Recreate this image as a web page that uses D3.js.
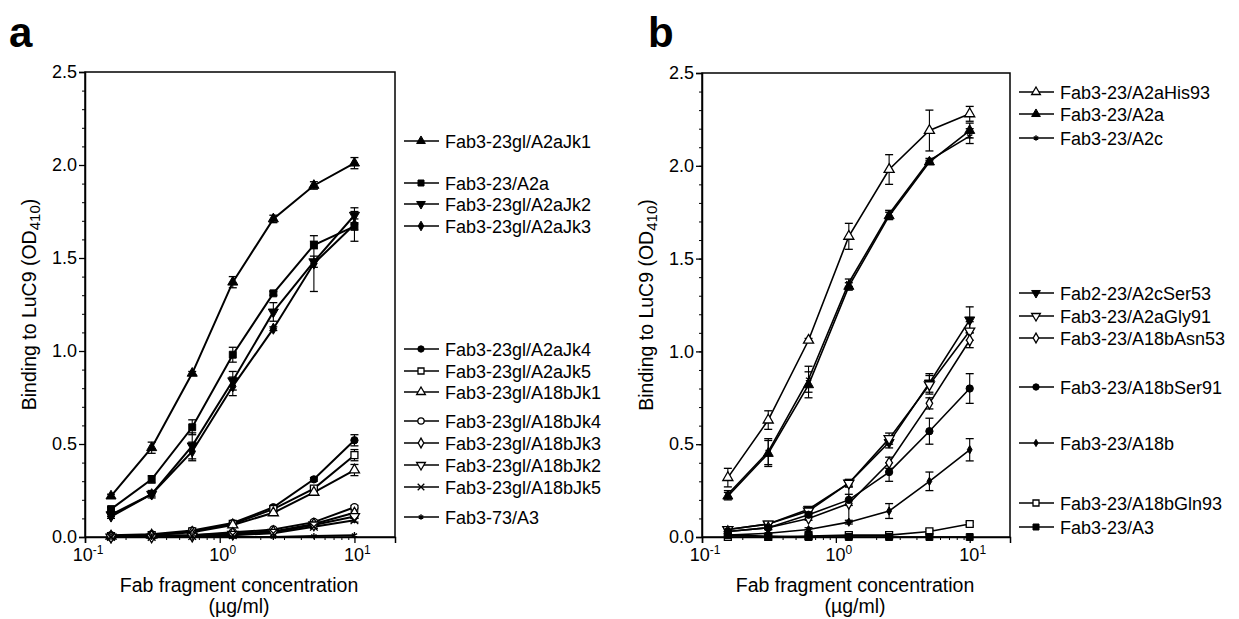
<!DOCTYPE html>
<html>
<head>
<meta charset="utf-8">
<script src="https://cdn.jsdelivr.net/npm/d3@7.9.0/dist/d3.min.js"></script>
<style>
  body { margin: 0; background: #fff; }
  svg { font-family: 'Liberation Sans', Arial, sans-serif; }
</style>
</head>
<body>
<svg id="chart" width="1239" height="619"></svg>
<script>
// concentrations (µg/ml)
const conc = [0.156, 0.3125, 0.625, 1.25, 2.5, 5, 10];

// panel a
const namesA = ['Fab3-23gl/A2aJk1', 'Fab3-23/A2a', 'Fab3-23gl/A2aJk2', 'Fab3-23gl/A2aJk3',
  'Fab3-23gl/A2aJk4', 'Fab3-23gl/A2aJk5', 'Fab3-23gl/A18bJk1',
  'Fab3-23gl/A18bJk4', 'Fab3-23gl/A18bJk3', 'Fab3-23gl/A18bJk2', 'Fab3-23gl/A18bJk5',
  'Fab3-73/A3'];
const valuesA = [
  [0.22, 0.48, 0.88, 1.37, 1.71, 1.89, 2.01],
  [0.15, 0.31, 0.59, 0.98, 1.31, 1.57, 1.67],
  [0.12, 0.23, 0.49, 0.84, 1.21, 1.48, 1.73],
  [0.11, 0.23, 0.46, 0.81, 1.12, 1.47, 1.68],
  [0.01, 0.015, 0.035, 0.075, 0.16, 0.31, 0.52],
  [0.005, 0.01, 0.03, 0.07, 0.15, 0.26, 0.44],
  [0.005, 0.01, 0.025, 0.065, 0.13, 0.24, 0.36],
  [0, 0.005, 0.01, 0.025, 0.04, 0.08, 0.16],
  [0, 0.005, 0.01, 0.02, 0.03, 0.07, 0.13],
  [0, 0, 0.005, 0.015, 0.025, 0.065, 0.11],
  [0, 0, 0.005, 0.01, 0.02, 0.055, 0.09],
  [0, 0, 0, 0, 0, 0.005, 0.01]
];
const errorsA = [
  [0.01, 0.03, 0.01, 0.03, 0.02, 0.02, 0.03],
  [0.01, 0.02, 0.04, 0.04, 0.01, 0.02, 0.08],
  [0.01, 0.02, 0.07, 0.05, 0.05, 0.03, 0.04],
  [0.01, 0.01, 0.05, 0.05, 0.01, 0.15, 0.03],
  [0, 0, 0, 0, 0.01, 0.01, 0.03],
  [0, 0, 0, 0, 0.01, 0.01, 0.03],
  [0, 0, 0, 0, 0.01, 0.01, 0.03],
  [0, 0, 0, 0, 0, 0.01, 0.01],
  [0, 0, 0, 0, 0, 0.01, 0.01],
  [0, 0, 0, 0, 0, 0.01, 0.01],
  [0, 0, 0, 0, 0, 0.01, 0.01],
  [0, 0, 0, 0, 0, 0, 0]
];

// panel b
const namesB = ['Fab3-23/A2aHis93', 'Fab3-23/A2a', 'Fab3-23/A2c',
  'Fab2-23/A2cSer53', 'Fab3-23/A2aGly91', 'Fab3-23/A18bAsn53',
  'Fab3-23/A18bSer91', 'Fab3-23/A18b', 'Fab3-23/A18bGln93', 'Fab3-23/A3'];
const valuesB = [
  [0.32, 0.63, 1.06, 1.62, 1.98, 2.19, 2.28],
  [0.22, 0.45, 0.82, 1.35, 1.73, 2.02, 2.19],
  [0.23, 0.46, 0.85, 1.37, 1.74, 2.03, 2.16],
  [0.04, 0.07, 0.15, 0.29, 0.51, 0.83, 1.17],
  [0.04, 0.07, 0.14, 0.29, 0.53, 0.82, 1.11],
  [0.03, 0.05, 0.10, 0.18, 0.40, 0.72, 1.06],
  [0.03, 0.05, 0.12, 0.20, 0.35, 0.57, 0.80],
  [0.01, 0.02, 0.04, 0.08, 0.14, 0.30, 0.47],
  [0, 0, 0.005, 0.01, 0.01, 0.03, 0.07],
  [0.01, 0.005, 0, 0, 0, 0, 0]
];
const errorsB = [
  [0.05, 0.05, 0.01, 0.07, 0.08, 0.11, 0.04],
  [0.02, 0.07, 0.07, 0.02, 0.02, 0.01, 0.04],
  [0.02, 0.07, 0.07, 0.02, 0.02, 0.01, 0.04],
  [0.01, 0.01, 0.01, 0.02, 0.03, 0.05, 0.07],
  [0.01, 0.01, 0.01, 0.02, 0.03, 0.05, 0.05],
  [0.01, 0.01, 0.01, 0.10, 0.03, 0.03, 0.04],
  [0.01, 0.01, 0.01, 0.03, 0.05, 0.07, 0.08],
  [0, 0, 0.01, 0.01, 0.04, 0.05, 0.06],
  [0, 0, 0, 0, 0, 0.01, 0.01],
  [0, 0, 0, 0, 0, 0, 0]
];

const yTicks = [0, 0.5, 1.0, 1.5, 2.0, 2.5];
const xTicks = [0.1, 1, 10];
const xTickExp = ['-1', '0', '1'];

// marker styles
const markersA = [
  { t: 'tri', fill: true }, { t: 'sq', fill: true }, { t: 'tridown', fill: true },
  { t: 'dia', fill: true }, { t: 'circ', fill: true }, { t: 'sq', fill: false },
  { t: 'tri', fill: false }, { t: 'circ', fill: false }, { t: 'dia', fill: false },
  { t: 'tridown', fill: false }, { t: 'x', fill: false }, { t: 'star', fill: false }
];
const markersB = [
  { t: 'tri', fill: false }, { t: 'tri', fill: true }, { t: 'star', fill: false },
  { t: 'tridown', fill: true }, { t: 'tridown', fill: false }, { t: 'dia', fill: false },
  { t: 'circ', fill: true }, { t: 'smalldia', fill: true }, { t: 'sq', fill: false },
  { t: 'sq', fill: true }
];
const legendYA = [141, 183, 204, 226, 349, 371, 392, 421, 443, 465, 487, 517];
const legendYB = [92, 114, 138, 293, 316, 338, 387, 443, 503, 527];

const svg = d3.select('#chart');

function symbolPath(m, scale) {
  const map = {
    tri: [d3.symbolTriangle, 44, 0],
    tridown: [d3.symbolTriangle, 44, 180],
    sq: [d3.symbolSquare, 48, 0],
    dia: [d3.symbolDiamond, 36, 0],
    smalldia: [d3.symbolDiamond, 20, 0],
    circ: [d3.symbolCircle, 42, 0],
    x: [d3.symbolX, 40, 0],
    star: [d3.symbolAsterisk, 26, 0]
  };
  const [type, size, rot] = map[m.t];
  return { d: d3.symbol(type, size * scale)(), rot };
}

function drawMarker(g, m, cx, cy, scale = 1) {
  const s = symbolPath(m, scale);
  const stroked = m.t === 'x' || m.t === 'star';
  g.append('path')
    .attr('d', s.d)
    .attr('transform', `translate(${cx},${cy}) rotate(${s.rot})`)
    .attr('fill', stroked ? 'none' : (m.fill ? '#000' : '#fff'))
    .attr('stroke', '#000')
    .attr('stroke-width', m.fill ? 1 : 1.3);
}

function drawPanel(cfg) {
  const { left, right, top, bottom, names, values, errors, markers, legendY, label, labelX, lw } = cfg;
  const x = d3.scaleLog().domain([0.1, 20]).range([left, right]);
  const y = d3.scaleLinear().domain([0, 2.5]).range([bottom, top]);
  const g = svg.append('g');

  // panel letter
  g.append('text').attr('x', labelX).attr('y', 47)
    .attr('font-size', 42).attr('font-weight', 'bold').text(label);

  // frame
  g.append('rect').attr('x', left).attr('y', top)
    .attr('width', right - left).attr('height', bottom - top)
    .attr('fill', 'none').attr('stroke', '#000').attr('stroke-width', 1.5);

  // y axis
  const yMinor = d3.range(0, 2.51, 0.1);
  g.append('g').attr('transform', `translate(${left},0)`)
    .call(d3.axisLeft(y).tickValues(yMinor).tickSize(3).tickFormat(''))
    .call(a => a.select('.domain').remove());
  const yAx = g.append('g').attr('transform', `translate(${left},0)`)
    .call(d3.axisLeft(y).tickValues(yTicks).tickSize(6).tickPadding(2).tickFormat(d3.format('.1f')));
  yAx.select('.domain').attr('stroke-width', 1.5);
  yAx.selectAll('text').attr('font-size', 18).attr('font-family', 'Liberation Sans, Arial');
  yAx.selectAll('.tick line').attr('stroke-width', 1.3);

  // x axis
  const xMinor = [];
  [0.1, 1, 10].forEach(dec => d3.range(2, 10).forEach(k => { if (dec * k <= 20) xMinor.push(dec * k); }));
  g.append('g').attr('transform', `translate(0,${bottom})`)
    .call(d3.axisBottom(x).tickValues(xMinor).tickSize(3).tickFormat(''))
    .call(a => a.select('.domain').remove());
  const xAx = g.append('g').attr('transform', `translate(0,${bottom})`)
    .call(d3.axisBottom(x).tickValues(xTicks).tickSize(6).tickFormat(''));
  xAx.select('.domain').attr('stroke-width', 1.5);
  xAx.selectAll('.tick line').attr('stroke-width', 1.3);
  xTicks.forEach((t, i) => {
    const tx = g.append('text').attr('x', x(t) + 3).attr('y', bottom + 24)
      .attr('text-anchor', 'middle').attr('font-size', 18);
    tx.append('tspan').text('10');
    tx.append('tspan').attr('font-size', 12).attr('dy', -7).text(xTickExp[i]);
  });

  // axis titles
  const cxm = (left + right) / 2;
  g.append('text').attr('x', cxm - 1).attr('y', bottom + 55).attr('text-anchor', 'middle')
    .attr('font-size', 19.5).text('Fab fragment concentration');
  g.append('text').attr('x', cxm - 1).attr('y', bottom + 76).attr('text-anchor', 'middle')
    .attr('font-size', 19.5).text('(\u00b5g/ml)');
  const yl = g.append('text')
    .attr('transform', `translate(${left - 49},${(top + bottom) / 2}) rotate(-90)`)
    .attr('text-anchor', 'middle').attr('font-size', 19.5);
  yl.append('tspan').text('Binding to LuC9 (OD');
  yl.append('tspan').attr('font-size', 15).attr('dy', 4).text('410');
  yl.append('tspan').attr('dy', -4).text(')');

  // series
  const line = d3.line().x(d => x(d[0])).y(d => y(d[1]));
  const series = values.map((vals, i) => vals.map((v, j) => [conc[j], v, errors[i][j]]));
  const plot = g.append('g');
  series.forEach(s => {
    plot.append('path').attr('d', line(s)).attr('fill', 'none')
      .attr('stroke', '#000').attr('stroke-width', lw);
  });
  series.forEach(s => {
    s.filter(d => d[2] > 0).forEach(d => {
      const px = x(d[0]);
      const y1 = y(d[1] + d[2]), y0 = y(Math.max(0, d[1] - d[2]));
      plot.append('line').attr('x1', px).attr('x2', px).attr('y1', y1).attr('y2', y0)
        .attr('stroke', '#000').attr('stroke-width', 1.1);
      [y1, y0].forEach(yy => plot.append('line').attr('x1', px - 4).attr('x2', px + 4)
        .attr('y1', yy).attr('y2', yy).attr('stroke', '#000').attr('stroke-width', 1.3));
    });
  });
  series.forEach((s, i) => {
    s.forEach(d => drawMarker(plot, markers[i], x(d[0]), y(d[1])));
  });

  // legend
  const lx = right + 9;
  names.forEach((n, i) => {
    const ly = legendY[i];
    g.append('line').attr('x1', lx).attr('x2', lx + 35).attr('y1', ly).attr('y2', ly)
      .attr('stroke', '#000').attr('stroke-width', 1.4);
    drawMarker(g, markers[i], lx + 17, ly, 0.75);
    g.append('text').attr('x', lx + 41).attr('y', ly + 6.5).attr('font-size', 18).text(n);
  });
}

drawPanel({ left: 85, right: 395, top: 72, bottom: 537, names: namesA, values: valuesA,
  errors: errorsA, markers: markersA, legendY: legendYA, label: 'a', labelX: 9, lw: 2 });
drawPanel({ left: 702, right: 1010, top: 73, bottom: 537, names: namesB, values: valuesB,
  errors: errorsB, markers: markersB, legendY: legendYB, label: 'b', labelX: 648, lw: 1.6 });
</script>
</body>
</html>
